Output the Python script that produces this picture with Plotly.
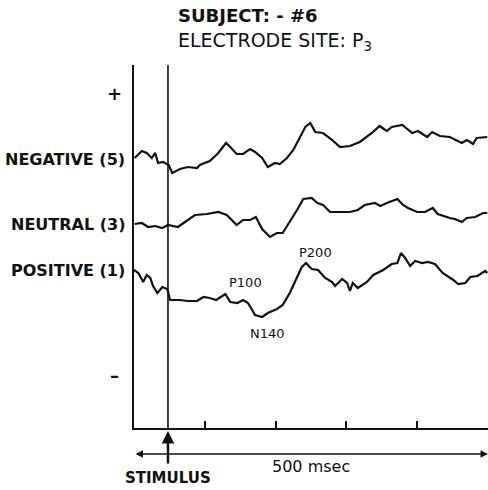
import plotly.graph_objects as go

# time in msec from the start of the sweep (sweep = 500 msec), amplitude in arbitrary display units
neg_t = [1, 11, 18, 25, 30, 34, 41, 49, 54, 65, 76, 89, 93, 107, 119, 130, 136, 145, 154, 164, 171, 181,
         189, 199, 206, 216, 225, 234, 242, 249, 256, 267, 280, 291, 305, 319, 336, 347, 357, 364, 379,
         393, 401, 414, 421, 432, 446, 463, 470, 479, 484, 499]
neg_v = [270, 277, 275, 270, 275, 265, 266, 263, 255, 259, 261, 260, 263, 267, 275, 285, 281, 274, 274,
         279, 276, 270, 261, 265, 264, 270, 278, 291, 301, 305, 296, 295, 288, 281, 282, 286, 295, 302,
         297, 301, 303, 295, 297, 291, 296, 292, 291, 285, 288, 284, 290, 291]

neu_t = [1, 11, 20, 30, 40, 48, 62, 72, 86, 103, 119, 131, 145, 154, 164, 172, 181, 192, 202, 210, 220,
         232, 239, 251, 259, 267, 277, 291, 305, 316, 326, 340, 348, 357, 372, 380, 387, 400, 411, 422,
         429, 446, 453, 463, 470, 482, 493, 499]
neu_v = [204, 205, 201, 202, 200, 203, 201, 206, 213, 214, 216, 213, 203, 208, 208, 211, 199, 191, 195,
         195, 206, 220, 229, 230, 225, 223, 216, 216, 216, 218, 223, 225, 222, 225, 229, 223, 220, 216,
         216, 220, 214, 210, 209, 206, 210, 211, 215, 215]

pos_t = [0, 6, 13, 18, 23, 27, 33, 40, 47, 51, 65, 76, 89, 98, 107, 116, 129, 136, 146, 154, 161, 171,
         181, 189, 202, 210, 220, 230, 237, 243, 251, 260, 270, 280, 284, 294, 301, 305, 309, 316, 329,
         338, 352, 364, 372, 377, 383, 390, 397, 407, 415, 425, 436, 451, 458, 468, 475, 485, 496, 499]
pos_v = [158, 155, 146, 153, 150, 142, 135, 141, 139, 128, 128, 127, 127, 131, 130, 128, 134, 126, 125,
         128, 125, 113, 111, 115, 119, 123, 135, 151, 161, 165, 159, 158, 150, 146, 142, 149, 145, 137,
         145, 140, 146, 153, 158, 164, 165, 175, 170, 162, 167, 165, 166, 164, 155, 148, 144, 145, 151,
         152, 157, 155]

series_names = ["NEGATIVE (5)", "NEUTRAL (3)", "POSITIVE (1)"]
series_label_y = [269, 203.5, 158]
component_labels = ["P100", "N140", "P200"]
component_x = [158, 189, 257]
component_y = [146, 95, 176]
axis_ticks = [100, 200, 300, 400]
stimulus_t = 48
sweep_ms = 500
y_top = 363

INK = "#111111"
FONT = "DejaVu Sans"

fig = go.Figure()
for t, v, name in zip([neg_t, neu_t, pos_t], [neg_v, neu_v, pos_v], series_names):
    fig.add_trace(go.Scatter(x=t, y=v, mode="lines", name=name,
                             line=dict(color=INK, width=2.2), hoverinfo="skip"))

# stimulus line
fig.add_shape(type="line", xref="x", yref="y", x0=stimulus_t, x1=stimulus_t, y0=0, y1=y_top,
              line=dict(color=INK, width=1.6))

ann = []
# series labels
for name, y in zip(series_names, series_label_y):
    ann.append(dict(text=name, xref="paper", yref="y", x=-0.0198, y=y, xanchor="right",
                    yanchor="middle", showarrow=False,
                    font=dict(family=FONT, size=16, color=INK, weight="bold")))
# component labels
for name, x, y in zip(component_labels, component_x, component_y):
    ann.append(dict(text=name, xref="x", yref="y", x=x, y=y, showarrow=False,
                    xanchor="center", yanchor="middle",
                    font=dict(family=FONT, size=13, color=INK)))
# polarity
ann.append(dict(text="+", xref="paper", yref="y", x=-0.0537, y=335, showarrow=False,
                xanchor="center", yanchor="middle",
                font=dict(family=FONT, size=18, color=INK, weight="bold")))
ann.append(dict(text="–", xref="paper", yref="y", x=-0.0537, y=53, showarrow=False,
                xanchor="center", yanchor="middle",
                font=dict(family=FONT, size=18, color=INK, weight="bold")))
# title
ann.append(dict(text="SUBJECT: - #6", xref="paper", yref="paper", x=0.1186, y=1.1377,
                xanchor="left", yanchor="middle", showarrow=False,
                font=dict(family=FONT, size=18, color=INK, weight="bold")))
ann.append(dict(text="ELECTRODE SITE: P<sub>3</sub>", xref="paper", yref="paper", x=0.1186, y=1.0634,
                xanchor="left", yanchor="middle", showarrow=False,
                font=dict(family=FONT, size=19, color=INK)))
# 500 msec double arrow
ann.append(dict(text="", xref="x", yref="paper", x=sweep_ms, y=-0.0716, ax=-354, ay=0,
                showarrow=True, arrowhead=2, startarrowhead=2, arrowside="end+start",
                arrowsize=1, arrowwidth=1.5, arrowcolor=INK))
ann.append(dict(text="500 msec", xref="x", yref="paper", x=250, y=-0.107, showarrow=False,
                xanchor="center", yanchor="middle",
                font=dict(family=FONT, size=16, color=INK)))
# stimulus arrow
ann.append(dict(text="", xref="x", yref="paper", x=stimulus_t, y=-0.008, ax=0, ay=34,
                showarrow=True, arrowhead=2, arrowsize=1, arrowwidth=2.5, arrowcolor=INK))
ann.append(dict(text="STIMULUS", xref="x", yref="paper", x=stimulus_t, y=-0.1377, showarrow=False,
                xanchor="center", yanchor="middle",
                font=dict(family=FONT, size=15, color=INK, weight="bold")))

fig.update_layout(
    width=488, height=490,
    margin=dict(l=134, r=0, t=65, b=62),
    paper_bgcolor="white", plot_bgcolor="white",
    showlegend=False,
    annotations=ann,
    xaxis=dict(range=[0, sweep_ms], showgrid=False, zeroline=False, showline=True,
               linecolor=INK, linewidth=1.6, tickvals=axis_ticks, ticks="inside", ticklen=7,
               tickwidth=1.5, tickcolor=INK, showticklabels=False),
    yaxis=dict(range=[0, y_top], showgrid=False, zeroline=False, showline=True,
               linecolor=INK, linewidth=1.6, showticklabels=False, ticks=""),
)

fig.write_html("out.html")
